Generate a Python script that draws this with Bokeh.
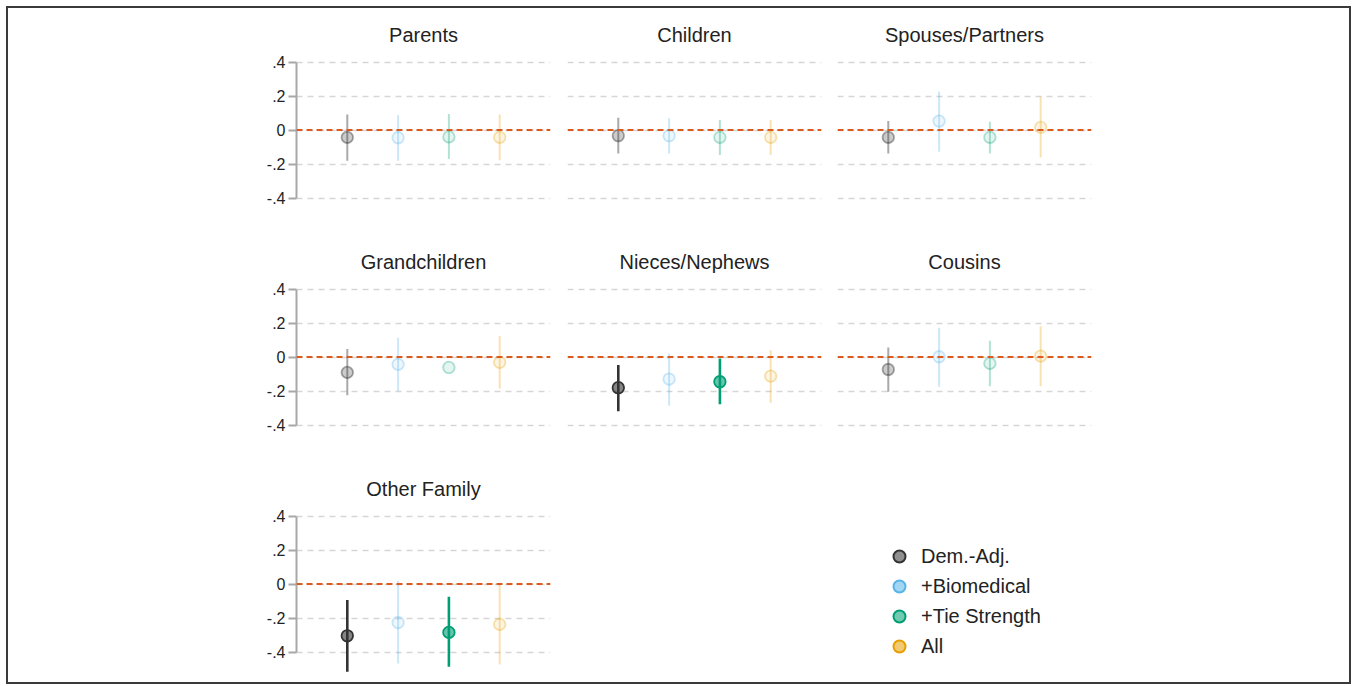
from bokeh.plotting import figure
from bokeh.layouts import gridplot, column
from bokeh.models import (ColumnDataSource, FactorRange, Range1d, Span, FixedTicker,
                          Legend, LegendItem)
from bokeh.embed import file_html
from bokeh.resources import INLINE

# ---------------- data ----------------
models = ["Dem.-Adj.", "+Biomedical", "+Tie Strength", "All"]
panel_titles = ["Parents", "Children", "Spouses/Partners",
                "Grandchildren", "Nieces/Nephews", "Cousins", "Other Family"]

parents_est = [-0.043, -0.045, -0.040, -0.043]
parents_lo = [-0.180, -0.180, -0.170, -0.178]
parents_hi = [0.092, 0.088, 0.094, 0.092]
parents_sig = [False, False, False, False]

children_est = [-0.033, -0.033, -0.043, -0.043]
children_lo = [-0.137, -0.137, -0.147, -0.147]
children_hi = [0.072, 0.069, 0.059, 0.059]
children_sig = [False, False, False, False]

spouses_est = [-0.043, 0.053, -0.043, 0.016]
spouses_lo = [-0.137, -0.127, -0.137, -0.161]
spouses_hi = [0.053, 0.225, 0.049, 0.196]
spouses_sig = [False, False, False, False]

grandchildren_est = [-0.090, -0.043, -0.061, -0.031]
grandchildren_lo = [-0.224, -0.200, -0.061, -0.184]
grandchildren_hi = [0.047, 0.114, -0.061, 0.124]
grandchildren_sig = [False, False, False, False]

nieces_est = [-0.180, -0.129, -0.145, -0.112]
nieces_lo = [-0.318, -0.286, -0.278, -0.269]
nieces_hi = [-0.047, 0.021, -0.008, 0.041]
nieces_sig = [True, False, True, False]

cousins_est = [-0.073, 0.002, -0.037, 0.006]
cousins_lo = [-0.204, -0.174, -0.171, -0.171]
cousins_hi = [0.057, 0.172, 0.096, 0.182]
cousins_sig = [False, False, False, False]

other_est = [-0.304, -0.226, -0.284, -0.237]
other_lo = [-0.516, -0.467, -0.486, -0.473]
other_hi = [-0.094, 0.018, -0.075, 0.000]
other_sig = [True, False, True, False]

tick_values = [-0.4, -0.2, 0, 0.2, 0.4]
tick_labels = ["-.4", "-.2", "0", ".2", ".4"]

# ---------------- style ----------------
series_colors = ["#333333", "#56B4E9", "#009E73", "#E69F00"]
faded_line_alpha = [0.42, 0.30, 0.30, 0.30]
faded_fill_alpha = [0.25, 0.10, 0.10, 0.10]
FONT = "Liberation Sans"
TEXT = "#222222"

panel_data = [
    (parents_est, parents_lo, parents_hi, parents_sig),
    (children_est, children_lo, children_hi, children_sig),
    (spouses_est, spouses_lo, spouses_hi, spouses_sig),
    (grandchildren_est, grandchildren_lo, grandchildren_hi, grandchildren_sig),
    (nieces_est, nieces_lo, nieces_hi, nieces_sig),
    (cousins_est, cousins_lo, cousins_hi, cousins_sig),
    (other_est, other_lo, other_hi, other_sig),
]

FW, FH = 254, 170
col_borders = [(288, 8), (9, 8), (8, 258)]
row_borders = [(40, 17), (40, 17), (40, 10)]


def make_fig(col, row, title=None):
    lb, rb = col_borders[col]
    tb, bb = row_borders[row]
    p = figure(x_range=FactorRange(factors=models, range_padding=0.5,
                                   range_padding_units="absolute"),
               y_range=Range1d(-0.52, 0.48),
               frame_width=FW, frame_height=FH,
               min_border_left=lb, min_border_right=rb,
               min_border_top=tb, min_border_bottom=bb,
               output_backend="svg", toolbar_location=None, title=title)
    p.outline_line_color = None
    p.background_fill_color = "white"
    p.border_fill_color = "white"
    return p


figs = []
for k, (title, (est, lo, hi, sig)) in enumerate(zip(panel_titles, panel_data)):
    row, col = divmod(k, 3)
    p = make_fig(col, row, title)
    p.title.text_font = FONT
    p.title.text_font_size = "20px"
    p.title.text_font_style = "normal"
    p.title.text_color = TEXT
    p.title.align = "center"
    p.title.standoff = 6

    ticker = FixedTicker(ticks=tick_values)
    p.yaxis.ticker = ticker
    p.ygrid.ticker = ticker
    p.ygrid.grid_line_color = "#d6d6d6"
    p.ygrid.grid_line_dash = "6 5"
    p.ygrid.grid_line_width = 1.5
    p.xgrid.visible = False
    p.xaxis.visible = False

    if col == 0:
        ax = p.yaxis[0]
        ax.bounds = (-0.4, 0.4)
        ax.axis_line_color = "#a8a8a8"
        ax.axis_line_width = 2
        ax.major_tick_line_color = "#a8a8a8"
        ax.major_tick_line_width = 2
        ax.major_tick_out = 8
        ax.major_tick_in = 0
        ax.minor_tick_line_color = None
        ax.major_label_overrides = {v: s for v, s in zip(tick_values, tick_labels)}
        ax.major_label_text_font = FONT
        ax.major_label_text_font_size = "16px"
        ax.major_label_text_color = TEXT
        ax.major_label_standoff = 3
    else:
        p.yaxis.visible = False

    p.add_layout(Span(location=0, dimension="width", line_color="#DB5A1E",
                      line_dash="6 4", line_width=2))

    src = ColumnDataSource(dict(
        model=models, est=est, lo=lo, hi=hi,
        color=series_colors,
        lalpha=[1.0 if s else fa for s, fa in zip(sig, faded_line_alpha)],
        falpha=[0.6 if s else ff for s, ff in zip(sig, faded_fill_alpha)],
        lw=[2.6 if s else 2.0 for s in sig],
    ))
    p.segment(x0="model", y0="lo", x1="model", y1="hi", source=src,
              line_color="color", line_alpha="lalpha", line_width="lw")
    p.scatter(x="model", y="est", source=src, marker="circle", size=11.5,
              fill_color="color", fill_alpha="falpha",
              line_color="color", line_alpha="lalpha", line_width=1.8)
    figs.append(p)

# legend panel
lp = make_fig(2, 2)
lp.xaxis.visible = False
lp.yaxis.visible = False
lp.xgrid.visible = False
lp.ygrid.visible = False
items = []
for m, c in zip(models, series_colors):
    r = lp.scatter(x=[float("nan")], y=[float("nan")], marker="circle", size=12,
                   fill_color=c, fill_alpha=0.55, line_color=c, line_width=2)
    items.append(LegendItem(label=m, renderers=[r]))
leg = Legend(items=items, location=(46, 11), orientation="vertical",
             glyph_width=32, glyph_height=30, label_height=30, spacing=0,
             label_standoff=6, padding=0, margin=0,
             label_text_font=FONT, label_text_font_size="20px",
             label_text_color=TEXT, border_line_color=None,
             background_fill_alpha=0)
lp.add_layout(leg)

grid = gridplot([[figs[0], figs[1], figs[2]],
                 [figs[3], figs[4], figs[5]],
                 [figs[6], None, lp]], toolbar_location=None)

page = column(grid, margin=(6, 0, 0, 6),
              styles={"border": "2px solid #3a3a3a", "background": "white"})

open("out.html", "w").write(file_html(page, INLINE))
